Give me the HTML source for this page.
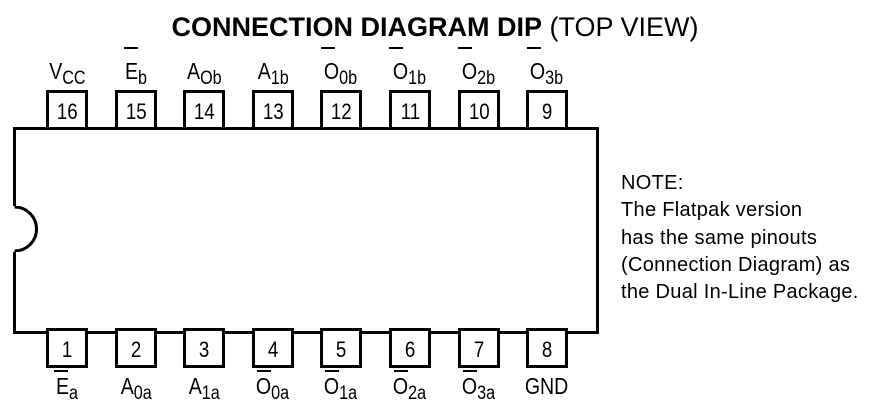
<!DOCTYPE html>
<html><head><style>
body{margin:0;width:872px;height:417px;background:#fff;font-family:"Liberation Sans",Arial,sans-serif;position:relative;overflow:hidden}
.a{position:absolute}
.chip{left:13px;top:127px;width:580px;height:201px;border:3px solid #000}
.notch{left:-3px;top:206px;width:42px;height:46px}
.pin{width:36px;height:34px;border:3px solid #000;text-align:center;font-size:22px;line-height:38px;background:#fff}
.pin span,.lab span.s{display:inline-block;transform:scaleX(0.85)}
.lab{font-size:23px;width:70px;text-align:center}
sub{font-size:19px;vertical-align:-5px;line-height:0}
.bar{position:absolute;height:2px;width:14px;background:#000}
.note{left:621px;font-size:20px;letter-spacing:0.3px}
</style></head><body>
<div class="a" style="left:0;width:872px;top:12px;text-align:center;font-size:27px;"><span style="margin-left:-2px"><b>CONNECTION DIAGRAM DIP</b> (TOP VIEW)</span></div>
<div class="a chip"></div>
<svg class="a notch" width="42" height="46" style="left:13px"><rect x="0" y="0" width="4" height="46" fill="#fff"/><path d="M1.5 1 A22 22 0 0 1 1.5 45" fill="#fff" stroke="#000" stroke-width="3"/></svg>
<div class="a pin" style="left:46px;top:90px"><span>16</span></div>
<div class="a pin" style="left:115px;top:90px"><span>15</span></div>
<div class="a pin" style="left:183px;top:90px"><span>14</span></div>
<div class="a pin" style="left:252px;top:90px"><span>13</span></div>
<div class="a pin" style="left:320px;top:90px"><span>12</span></div>
<div class="a pin" style="left:389px;top:90px"><span>11</span></div>
<div class="a pin" style="left:458px;top:90px"><span>10</span></div>
<div class="a pin" style="left:526px;top:90px"><span>9</span></div>
<div class="a pin" style="left:46px;top:328px"><span>1</span></div>
<div class="a pin" style="left:115px;top:328px"><span>2</span></div>
<div class="a pin" style="left:183px;top:328px"><span>3</span></div>
<div class="a pin" style="left:252px;top:328px"><span>4</span></div>
<div class="a pin" style="left:320px;top:328px"><span>5</span></div>
<div class="a pin" style="left:389px;top:328px"><span>6</span></div>
<div class="a pin" style="left:458px;top:328px"><span>7</span></div>
<div class="a pin" style="left:526px;top:328px"><span>8</span></div>
<div class="a lab" style="left:32px;top:58px"><span class="s">V<sub>CC</sub></span></div>
<div class="a lab" style="left:101px;top:58px"><span class="s">E<sub>b</sub></span></div>
<div class="a lab" style="left:169px;top:58px"><span class="s">A<sub>Ob</sub></span></div>
<div class="a lab" style="left:238px;top:58px"><span class="s">A<sub>1b</sub></span></div>
<div class="a lab" style="left:306px;top:58px"><span class="s">O<sub>0b</sub></span></div>
<div class="a lab" style="left:375px;top:58px"><span class="s">O<sub>1b</sub></span></div>
<div class="a lab" style="left:444px;top:58px"><span class="s">O<sub>2b</sub></span></div>
<div class="a lab" style="left:512px;top:58px"><span class="s">O<sub>3b</sub></span></div>
<div class="bar" style="left:124px;top:47px"></div>
<div class="bar" style="left:321px;top:47px"></div>
<div class="bar" style="left:389px;top:47px"></div>
<div class="bar" style="left:458px;top:47px"></div>
<div class="bar" style="left:527px;top:47px"></div>
<div class="a lab" style="left:32px;top:373px"><span class="s">E<sub>a</sub></span></div>
<div class="a lab" style="left:101px;top:373px"><span class="s">A<sub>0a</sub></span></div>
<div class="a lab" style="left:169px;top:373px"><span class="s">A<sub>1a</sub></span></div>
<div class="a lab" style="left:238px;top:373px"><span class="s">O<sub>0a</sub></span></div>
<div class="a lab" style="left:306px;top:373px"><span class="s">O<sub>1a</sub></span></div>
<div class="a lab" style="left:375px;top:373px"><span class="s">O<sub>2a</sub></span></div>
<div class="a lab" style="left:444px;top:373px"><span class="s">O<sub>3a</sub></span></div>
<div class="a lab" style="left:512px;top:373px"><span class="s">GND</span></div>
<div class="bar" style="left:54px;top:370px"></div>
<div class="bar" style="left:257px;top:370px"></div>
<div class="bar" style="left:325px;top:370px"></div>
<div class="bar" style="left:394px;top:370px"></div>
<div class="bar" style="left:463px;top:370px"></div>
<div class="a note" style="top:172px">NOTE:</div>
<div class="a note" style="top:199px">The Flatpak version</div>
<div class="a note" style="top:227px">has the same pinouts</div>
<div class="a note" style="top:254px">(Connection Diagram) as</div>
<div class="a note" style="top:281px">the Dual In-Line Package.</div>
</body></html>
